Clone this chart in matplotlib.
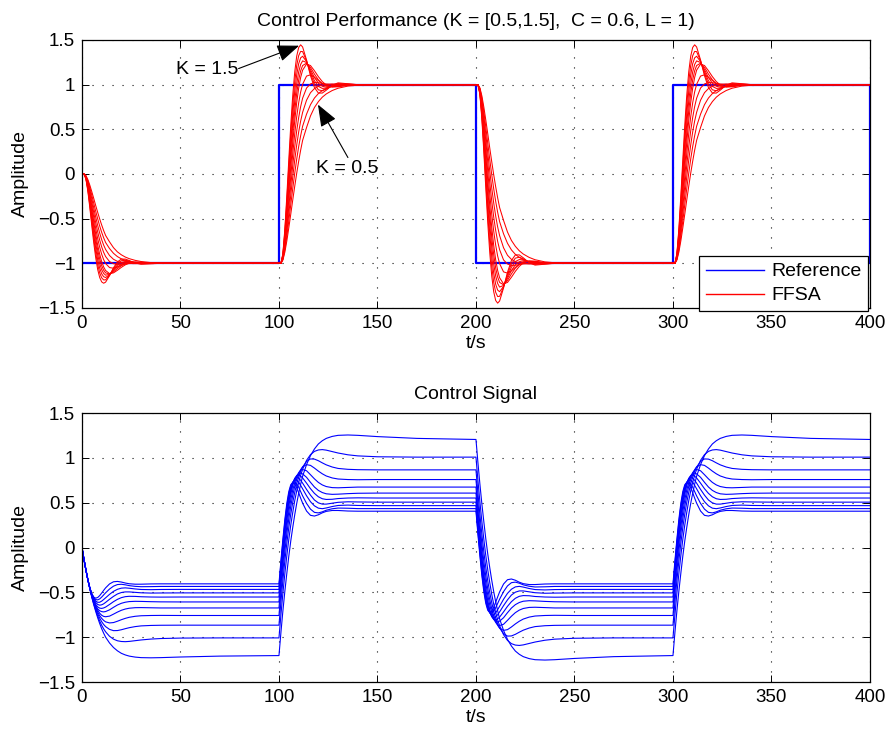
import numpy as np
import matplotlib
matplotlib.use("Agg")
import matplotlib.pyplot as plt
from matplotlib.lines import Line2D
from matplotlib.ticker import FuncFormatter, MultipleLocator

plt.rcParams["font.family"] = ["Liberation Sans", "DejaVu Sans"]

# plant gains in the family, K = 0.5 ... 1.5
gains = [0.5, 0.6, 0.7, 0.8, 0.9, 1.0, 1.1, 1.2, 1.3, 1.4, 1.5]

# reference square wave: level before / after each switch
switch_times = [0, 100, 200, 300]
levels_before = [0, -1, 1, -1]
levels_after = [-1, 1, -1, 1]
t_end = 400

# time since a switch at which the unit-step responses are sampled
tau = [0, 1, 2, 3, 4, 5, 6, 7, 8, 9, 10, 11, 12, 14, 16, 18, 20, 22, 24, 27, 30, 35, 40, 50, 70, 100]

# closed-loop output for a unit step, one row per gain
y_step = [
    [0, 0, 0.018, 0.063, 0.126, 0.199, 0.276, 0.355, 0.431, 0.504, 0.571, 0.633, 0.688, 0.760, 0.825, 0.872, 0.905, 0.930, 0.948, 0.967, 0.980, 0.992, 0.997, 1.0, 1.0, 1.0],
    [0, 0, 0.022, 0.076, 0.152, 0.238, 0.329, 0.419, 0.504, 0.583, 0.653, 0.714, 0.767, 0.835, 0.888, 0.925, 0.950, 0.967, 0.979, 0.990, 0.996, 1.000, 1.0, 1.0, 1.0, 1.0],
    [0, 0, 0.025, 0.089, 0.177, 0.278, 0.382, 0.484, 0.578, 0.662, 0.735, 0.796, 0.845, 0.913, 0.955, 0.978, 0.991, 0.998, 1.002, 1.004, 1.003, 1.001, 1.0, 1.0, 1.0, 1.0],
    [0, 0, 0.029, 0.102, 0.203, 0.317, 0.435, 0.548, 0.651, 0.741, 0.816, 0.877, 0.924, 0.981, 1.004, 1.012, 1.011, 1.007, 1.003, 0.999, 0.998, 0.999, 1.0, 1.0, 1.0, 1.0],
    [0, 0, 0.032, 0.115, 0.228, 0.357, 0.488, 0.613, 0.725, 0.820, 0.898, 0.959, 1.002, 1.048, 1.055, 1.042, 1.023, 1.006, 0.994, 0.988, 0.990, 0.998, 1.0, 1.0, 1.0, 1.0],
    [0, 0, 0.036, 0.128, 0.254, 0.396, 0.541, 0.677, 0.798, 0.899, 0.980, 1.040, 1.081, 1.115, 1.107, 1.078, 1.045, 1.017, 0.998, 0.987, 0.988, 0.997, 1.0, 1.0, 1.0, 1.0],
    [0, 0, 0.040, 0.141, 0.279, 0.433, 0.588, 0.730, 0.853, 0.951, 1.026, 1.077, 1.107, 1.120, 1.096, 1.059, 1.027, 1.004, 0.992, 0.989, 0.992, 0.999, 1.0, 1.0, 1.0, 1.0],
    [0, 0, 0.044, 0.154, 0.304, 0.470, 0.635, 0.783, 0.907, 1.003, 1.071, 1.113, 1.133, 1.124, 1.084, 1.040, 1.008, 0.991, 0.986, 0.991, 0.997, 1.000, 1.0, 1.0, 1.0, 1.0],
    [0, 0, 0.047, 0.167, 0.329, 0.507, 0.681, 0.835, 0.962, 1.055, 1.117, 1.150, 1.159, 1.129, 1.073, 1.022, 0.990, 0.979, 0.981, 0.993, 1.001, 1.002, 1.0, 1.0, 1.0, 1.0],
    [0, 0, 0.051, 0.180, 0.354, 0.544, 0.728, 0.888, 1.016, 1.107, 1.162, 1.186, 1.185, 1.133, 1.061, 1.003, 0.971, 0.966, 0.975, 0.995, 1.006, 1.003, 1.0, 1.0, 1.0, 1.0],
    [0, 0, 0.055, 0.193, 0.379, 0.581, 0.775, 0.941, 1.071, 1.159, 1.208, 1.223, 1.211, 1.138, 1.050, 0.984, 0.953, 0.953, 0.969, 0.997, 1.010, 1.005, 1.0, 1.0, 1.0, 1.0],
]

# controller output for a unit step, one row per gain
u_step = [
    [0, 0.13, 0.25, 0.36, 0.460, 0.555, 0.640, 0.715, 0.785, 0.848, 0.905, 0.955, 1.000, 1.065, 1.115, 1.152, 1.180, 1.198, 1.211, 1.222, 1.228, 1.230, 1.228, 1.221, 1.211, 1.205],
    [0, 0.13, 0.25, 0.36, 0.460, 0.550, 0.630, 0.700, 0.765, 0.820, 0.867, 0.907, 0.940, 0.990, 1.022, 1.040, 1.048, 1.050, 1.047, 1.039, 1.031, 1.021, 1.015, 1.010, 1.008, 1.008],
    [0, 0.13, 0.25, 0.36, 0.458, 0.545, 0.620, 0.685, 0.740, 0.788, 0.827, 0.858, 0.882, 0.913, 0.927, 0.926, 0.917, 0.905, 0.894, 0.882, 0.874, 0.869, 0.867, 0.866, 0.866, 0.866],
    [0, 0.13, 0.25, 0.36, 0.457, 0.540, 0.610, 0.670, 0.720, 0.760, 0.790, 0.813, 0.829, 0.841, 0.837, 0.822, 0.805, 0.790, 0.778, 0.767, 0.761, 0.758, 0.757, 0.758, 0.758, 0.758],
    [0, 0.13, 0.25, 0.36, 0.456, 0.537, 0.603, 0.658, 0.700, 0.733, 0.755, 0.768, 0.772, 0.765, 0.743, 0.720, 0.700, 0.686, 0.677, 0.671, 0.670, 0.672, 0.674, 0.674, 0.674, 0.674],
    [0, 0.13, 0.25, 0.36, 0.455, 0.535, 0.600, 0.650, 0.685, 0.705, 0.715, 0.718, 0.714, 0.695, 0.667, 0.641, 0.622, 0.610, 0.603, 0.600, 0.601, 0.604, 0.606, 0.607, 0.607, 0.607],
    [0, 0.13, 0.25, 0.36, 0.453, 0.530, 0.590, 0.635, 0.662, 0.676, 0.679, 0.674, 0.664, 0.635, 0.604, 0.578, 0.559, 0.548, 0.544, 0.545, 0.549, 0.552, 0.553, 0.552, 0.552, 0.552],
    [0, 0.13, 0.25, 0.36, 0.452, 0.525, 0.578, 0.614, 0.635, 0.643, 0.639, 0.628, 0.612, 0.577, 0.545, 0.518, 0.502, 0.495, 0.495, 0.500, 0.505, 0.508, 0.507, 0.506, 0.506, 0.506],
    [0, 0.13, 0.25, 0.36, 0.451, 0.520, 0.568, 0.598, 0.611, 0.610, 0.598, 0.580, 0.561, 0.522, 0.489, 0.466, 0.453, 0.450, 0.454, 0.462, 0.468, 0.470, 0.468, 0.467, 0.467, 0.467],
    [0, 0.13, 0.25, 0.36, 0.450, 0.518, 0.560, 0.581, 0.584, 0.573, 0.553, 0.529, 0.505, 0.463, 0.431, 0.413, 0.410, 0.416, 0.425, 0.433, 0.437, 0.436, 0.434, 0.434, 0.434, 0.434],
    [0, 0.13, 0.25, 0.36, 0.450, 0.515, 0.553, 0.565, 0.557, 0.536, 0.508, 0.478, 0.450, 0.406, 0.382, 0.378, 0.385, 0.396, 0.404, 0.409, 0.409, 0.406, 0.405, 0.405, 0.405, 0.405],
]


def stitch(resp):
    """Chain the unit-step response over every switch of the square wave."""
    resp = np.asarray(resp, dtype=float)
    tau_arr = np.asarray(tau, dtype=float)
    final = resp[-1]
    ts, vs = [], []
    for k, (t0, before, after) in enumerate(zip(switch_times, levels_before, levels_after)):
        seg_t = t0 + tau_arr
        seg_v = before * final + (after - before) * resp
        if k > 0:
            seg_t, seg_v = seg_t[1:], seg_v[1:]
        ts.append(seg_t)
        vs.append(seg_v)
    return np.concatenate(ts), np.concatenate(vs)


def fmt(v, pos):
    return ("%g" % v).replace("-", "\u2212")


def style_axes(ax):
    ax.set_xlim(0, 400)
    ax.set_ylim(-1.5, 1.5)
    ax.xaxis.set_major_locator(MultipleLocator(50))
    ax.yaxis.set_major_locator(MultipleLocator(0.5))
    ax.yaxis.set_major_formatter(FuncFormatter(fmt))
    ax.xaxis.set_major_formatter(FuncFormatter(fmt))
    ax.grid(True, color="0.05", linewidth=0.8, linestyle=(0, (1.0, 8.0)))
    ax.set_axisbelow(True)
    ax.tick_params(direction="in", length=5, width=0.7, top=True, right=True,
                   labelsize=13.5, pad=5)
    for sp in ax.spines.values():
        sp.set_linewidth(0.9)
    ax.set_xlabel("t/s", fontsize=14, labelpad=2)
    ax.set_ylabel("Amplitude", fontsize=14, labelpad=6)


fig = plt.figure(figsize=(8.89, 7.31), dpi=100)
ax1 = fig.add_axes([0.0922, 0.5787, 0.8864, 0.3666])
ax2 = fig.add_axes([0.0922, 0.0670, 0.8864, 0.3680])

# top: reference and output family
ref_x = switch_times + [t_end]
ref_y = levels_after + [levels_before[0] - 1]
ax1.plot(ref_x, ref_y, drawstyle="steps-post", color=(0, 0, 1), lw=1.6)
for row in y_step:
    t, y = stitch(row)
    ax1.plot(t, y, color=(1, 0, 0), lw=0.75)
style_axes(ax1)
ax1.set_title("Control Performance (K = [0.5,1.5],  C = 0.6, L = 1)", fontsize=14, pad=10)

head = "-|>,head_length=0.85,head_width=0.33"
ax1.annotate("", xy=(110.2, 1.436), xytext=(79.5, 1.18),
             arrowprops=dict(arrowstyle=head, color="k", lw=0.8, mutation_scale=16,
                             shrinkA=0, shrinkB=0))
ax1.text(63.7, 1.168, "K = 1.5", fontsize=14, ha="center", va="center")
ax1.annotate("", xy=(119.8, 0.777), xytext=(135.0, 0.184),
             arrowprops=dict(arrowstyle=head, color="k", lw=0.8, mutation_scale=16,
                             shrinkA=0, shrinkB=0))
ax1.text(134.8, 0.061, "K = 0.5", fontsize=14, ha="center", va="center")

handles = [Line2D([], [], color=(0, 0, 1), lw=1.0), Line2D([], [], color=(1, 0, 0), lw=1.0)]
leg = ax1.legend(handles, ["Reference", "FFSA"], loc="lower right",
                 bbox_to_anchor=(0.998, -0.012), borderaxespad=0, fontsize=14,
                 fancybox=False, framealpha=1, edgecolor="k", handlelength=3.0,
                 handletextpad=0.36, labelspacing=0.33, borderpad=0.35)
leg.get_frame().set_linewidth(0.9)

# bottom: control signal family
for row in u_step:
    t, u = stitch(row)
    ax2.plot(t, u, color=(0, 0, 1), lw=0.8)
style_axes(ax2)
ax2.set_title("Control Signal", fontsize=14, pad=10)

fig.savefig("out.png", dpi=100)
